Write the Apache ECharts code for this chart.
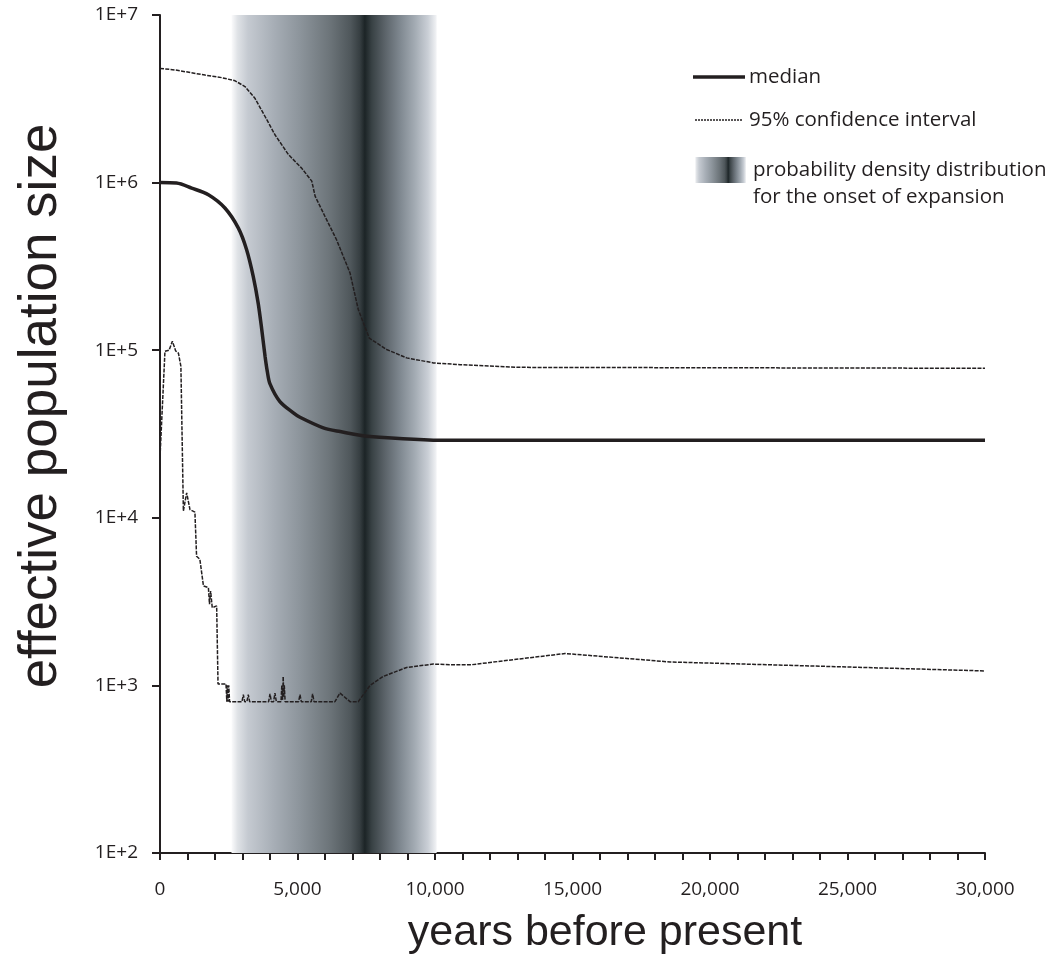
<!DOCTYPE html>
<html>
<head>
<meta charset="utf-8">
<script src="https://cdn.jsdelivr.net/npm/echarts@6/dist/echarts.min.js"></script>
<style>html,body{margin:0;padding:0;background:#fff}#c{width:1048px;height:961px}</style>
</head>
<body>
<div id="c"></div>
<script>
// ---- data ----
const medianYears  = [0, 600, 1150, 1760, 2360, 2850, 3150, 3390, 3570, 3700, 3820, 3900, 4000, 4360, 4850, 5090, 5940, 6550, 7520, 10550, 30000];
const medianValues = [1000000, 993000, 927000, 846000, 705000, 535000, 398000, 276000, 191000, 133000, 92000, 75000, 63000, 49400, 42300, 39800, 34400, 32700, 30700, 29000, 29000];

const upperYears  = [0, 550, 1640, 2240, 2730, 3090, 3450, 3820, 4180, 4670, 5150, 5520, 5640, 6000, 6420, 6910, 7210, 7610, 8240, 8970, 9940, 10910, 13090, 30000];
const upperValues = [4800000, 4700000, 4380000, 4230000, 4050000, 3740000, 3190000, 2480000, 1930000, 1470000, 1220000, 1020000, 830000, 628000, 456000, 289000, 175000, 118000, 101000, 90000, 84000, 82000, 79000, 78000];

const lowerYears  = [0, 180, 330, 450, 570, 670, 760, 850, 970, 1090, 1270, 1330, 1450, 1580, 1760, 1800, 1840, 1900, 2060, 2110, 2400, 2430, 2450, 2480, 2500, 2530, 2980, 3030, 3080, 3160, 3210, 3260, 3950, 4000, 4050, 4130, 4180, 4230, 4400, 4430, 4460, 4480, 4500, 4520, 4550, 5040, 5090, 5140, 5500, 5550, 5600, 6360, 6545, 6910, 7210, 7640, 8110, 8970, 9940, 10540, 11350, 14730, 18550, 30000];
const lowerValues = [23000, 98500, 100000, 113000, 99000, 96000, 80000, 11000, 14100, 11200, 10800, 5900, 5650, 3920, 3830, 3050, 3660, 2910, 2980, 1020, 1020, 800, 1000, 800, 1000, 800, 800, 880, 800, 800, 880, 800, 800, 890, 800, 800, 900, 800, 800, 1000, 820, 1130, 850, 1000, 800, 800, 880, 800, 800, 890, 800, 800, 900, 800, 800, 1000, 1130, 1280, 1340, 1330, 1330, 1550, 1380, 1220];

// onset-of-expansion density band (years)
const bandStart = 2600, bandEnd = 10060;

const xTicks = [0, 5000, 10000, 15000, 20000, 25000, 30000];

const labels = {
  median: 'median',
  ci: '95% confidence interval',
  pdd1: 'probability density distribution',
  pdd2: 'for the onset of expansion',
  xTitle: 'years before present',
  yTitle: 'effective population size'
};

// ---- chart ----
const ink = '#231f20';
function bandGradient() {
  return new echarts.graphic.LinearGradient(0, 0, 1, 0, [
    {offset: 0.00, color: '#fbfbfc'},
    {offset: 0.03, color: '#dfe2e6'},
    {offset: 0.08, color: '#c5cad1'},
    {offset: 0.21, color: '#a6adb5'},
    {offset: 0.33, color: '#8d959c'},
    {offset: 0.48, color: '#6c7479'},
    {offset: 0.58, color: '#4f575b'},
    {offset: 0.626, color: '#363e41'},
    {offset: 0.65, color: '#1c2426'},
    {offset: 0.685, color: '#394245'},
    {offset: 0.748, color: '#5b6369'},
    {offset: 0.82, color: '#7e878f'},
    {offset: 0.894, color: '#a3abb3'},
    {offset: 0.958, color: '#cacfd6'},
    {offset: 1.00, color: '#f3f4f6'}
  ]);
}
const pair = (xs, ys) => xs.map((x, i) => [x, ys[i]]);

const chart = echarts.init(document.getElementById('c'), null, {renderer: 'canvas'});
const tickFont = {fontFamily: 'Open Sans', fontSize: 19, color: ink};
const legendFont = '20.5px "Open Sans"';

chart.setOption({
  animation: false,
  backgroundColor: '#fff',
  grid: {left: 160, right: 63, top: 15, bottom: 108, containLabel: false},
  xAxis: {
    type: 'value', min: 0, max: 30000, interval: 5000,
    axisLine: {lineStyle: {color: ink, width: 2}},
    axisTick: {show: true, length: 7, lineStyle: {color: ink, width: 2}},
    minorTick: {show: true, splitNumber: 5, length: 7, lineStyle: {color: ink, width: 2}},
    splitLine: {show: false},
    axisLabel: Object.assign({margin: 27, formatter: v => xTicks.includes(v) ? v.toLocaleString('en-US') : ''}, tickFont)
  },
  yAxis: {
    type: 'log', logBase: 10, min: 100, max: 10000000,
    axisLine: {show: true, lineStyle: {color: ink, width: 2}},
    axisTick: {show: true, length: 8, lineStyle: {color: ink, width: 2}},
    splitLine: {show: false},
    axisLabel: Object.assign({margin: 22, formatter: v => '1E+' + Math.round(Math.log10(v))}, tickFont)
  },
  series: [
    {
      type: 'line', name: 'band', data: [], silent: true,
      markArea: {
        silent: true,
        itemStyle: {color: bandGradient()},
        data: [[{xAxis: bandStart}, {xAxis: bandEnd}]]
      }
    },
    {
      type: 'line', name: labels.ci + ' upper', data: pair(upperYears, upperValues),
      showSymbol: false, lineStyle: {color: ink, width: 1.5, type: [4, 1.3]}, z: 3
    },
    {
      type: 'line', name: labels.ci + ' lower', data: pair(lowerYears, lowerValues),
      showSymbol: false, lineStyle: {color: ink, width: 1.5, type: [4, 1.3]}, z: 3
    },
    {
      type: 'line', name: labels.median, data: pair(medianYears, medianValues),
      showSymbol: false, smooth: 0.3,
      lineStyle: {color: ink, width: 3.5}, z: 4
    }
  ],
  graphic: [
    {type: 'line', shape: {x1: 693, y1: 77, x2: 745, y2: 77}, style: {stroke: ink, lineWidth: 3.5}},
    {type: 'text', left: 749, top: 67, style: {text: labels.median, font: legendFont, fill: ink}},
    {type: 'line', shape: {x1: 695, y1: 120, x2: 743, y2: 120}, style: {stroke: ink, lineWidth: 1.3, lineDash: [2, 1]}},
    {type: 'text', left: 749, top: 110, style: {text: labels.ci, font: legendFont, fill: ink}},
    {type: 'rect', shape: {x: 695, y: 157, width: 51, height: 26}, style: {fill: bandGradient()}},
    {type: 'text', left: 753, top: 160, style: {text: labels.pdd1, font: legendFont, fill: ink}},
    {type: 'text', left: 753, top: 187, style: {text: labels.pdd2, font: legendFont, fill: ink}},
    {type: 'text', x: 605, y: 933, style: {text: labels.xTitle, font: '43px "Liberation Sans"', fill: ink, align: 'center', verticalAlign: 'middle'}},
    {type: 'text', x: 41, y: 406, rotation: Math.PI / 2, style: {text: labels.yTitle, font: '53px "Liberation Sans"', fill: ink, align: 'center', verticalAlign: 'middle'}}
  ]
});
</script>
</body>
</html>
